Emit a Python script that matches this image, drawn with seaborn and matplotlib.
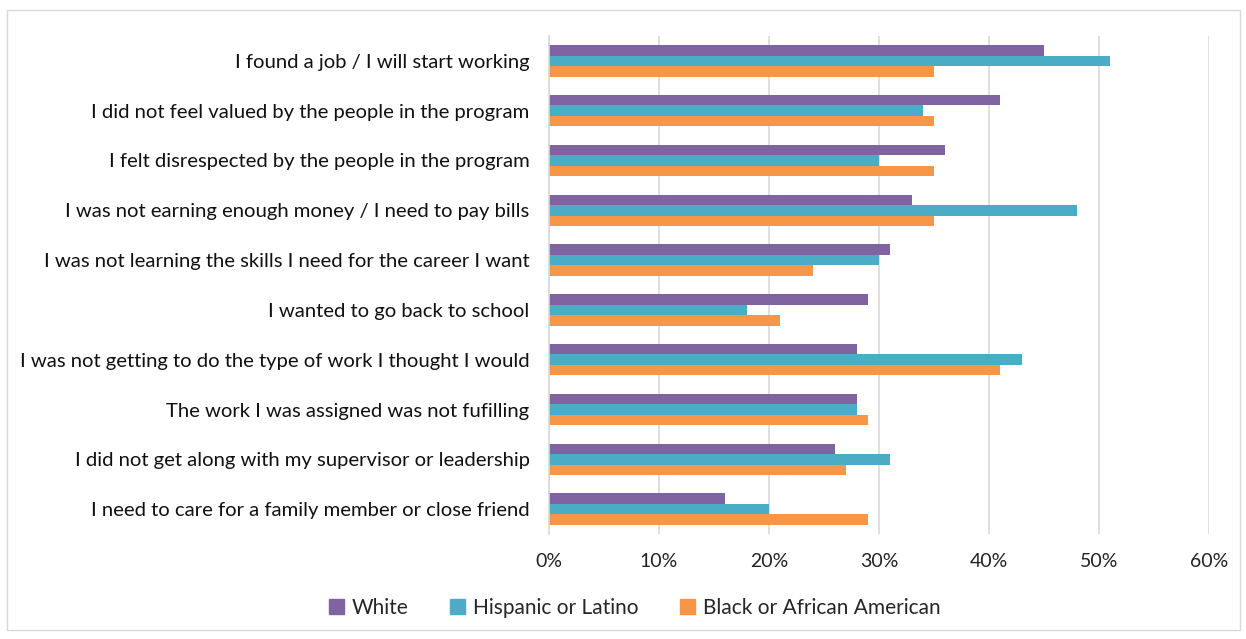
import matplotlib
matplotlib.use("Agg")
import matplotlib.pyplot as plt
import matplotlib.patches as mpatches
import pandas as pd
import seaborn as sns

reasons = [
    "I found a job / I will start working",
    "I did not feel valued by the people in the program",
    "I felt disrespected by the people in the program",
    "I was not earning enough money / I need to pay bills",
    "I was not learning the skills I need for the career I want",
    "I wanted to go back to school",
    "I was not getting to do the type of work I thought I would",
    "The work I was assigned was not fufilling",
    "I did not get along with my supervisor or leadership",
    "I need to care for a family member or close friend",
]
groups = ["White", "Hispanic or Latino", "Black or African American"]
white = [45, 41, 36, 33, 31, 29, 28, 28, 26, 16]
hispanic = [51, 34, 30, 48, 30, 18, 43, 28, 31, 20]
black = [35, 35, 35, 35, 24, 21, 41, 29, 27, 29]
colors = ["#8064A2", "#4BACC6", "#F79646"]
x_ticks = [0, 10, 20, 30, 40, 50, 60]

rows = []
for series, vals in zip(groups, [white, hispanic, black]):
    for r, v in zip(reasons, vals):
        rows.append({"reason": r, "group": series, "pct": v})
df = pd.DataFrame(rows)

sns.set_style("white")
plt.rcParams["font.family"] = ["Lato", "DejaVu Sans"]

fig = plt.figure(figsize=(12.46, 6.39), dpi=100)
ax = fig.add_axes([549 / 1246, 1 - 534 / 639, 660 / 1246, 498 / 639])

sns.barplot(data=df, y="reason", x="pct", hue="group", order=reasons,
            hue_order=groups, palette=colors, orient="h", width=0.63,
            saturation=1, dodge=True, gap=0, linewidth=0, ax=ax,
            legend=False, errorbar=None)

ax.set_xlim(0, 60)
ax.set_xticks(x_ticks)
ax.set_xticklabels([f"{t}%" for t in x_ticks], fontsize=14, color="#222222")
ax.tick_params(axis="y", labelsize=14.6, colors="#111111", length=0, pad=14)
ax.tick_params(axis="x", length=0, pad=14)
ax.set_xlabel("")
ax.set_ylabel("")
ax.set_ylim(len(reasons) - 0.5, -0.5)
ax.grid(axis="x", color="#D9D9D9", linewidth=1.2)
ax.set_axisbelow(True)
for side in ["top", "right", "bottom"]:
    ax.spines[side].set_visible(False)
ax.spines["left"].set_color("#D9D9D9")
ax.spines["left"].set_linewidth(1.2)

handles = [mpatches.Patch(color=c, label=g) for c, g in zip(colors, groups)]
fig.legend(handles=handles, loc="center", bbox_to_anchor=(635 / 1246, 1 - 608 / 639),
           ncol=3, frameon=False, fontsize=15, handlelength=0.7, handleheight=0.7,
           handletextpad=0.4, columnspacing=2.0)

# light outer frame
fig.patches.append(mpatches.Rectangle((7 / 1246, 1 - 630 / 639), 1233 / 1246, 620 / 639,
                                      transform=fig.transFigure, fill=False,
                                      edgecolor="#D9D9D9", linewidth=1.0))

fig.savefig("out.png", dpi=100, facecolor="white")
